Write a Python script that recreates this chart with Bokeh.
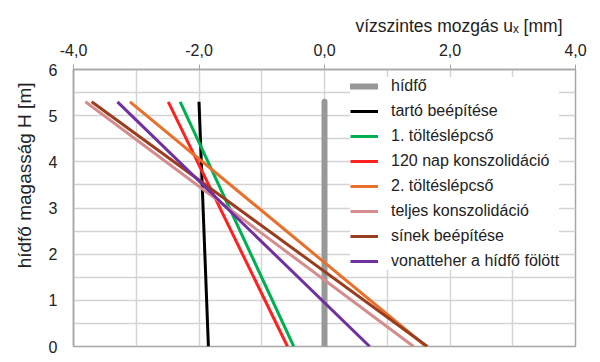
from bokeh.plotting import figure
from bokeh.models import FixedTicker, CustomJSTickFormatter, Legend, LegendItem, Range1d, Title
from bokeh.embed import file_html
from bokeh.resources import INLINE

# data
heights = [0.0, 5.3]
series_names = ["hídfő", "tartó beépítése", "1. töltéslépcső", "120 nap konszolidáció",
                "2. töltéslépcső", "teljes konszolidáció", "sínek beépítése",
                "vonatteher a hídfő fölött"]
hidfo = [0.0, 0.0]
tarto = [-1.85, -2.00]
tolt1 = [-0.49, -2.30]
nap120 = [-0.59, -2.49]
tolt2 = [1.62, -3.10]
teljes = [1.42, -3.81]
sinek = [1.64, -3.71]
vonat = [0.72, -3.30]
x_ticks = [-4, -2, 0, 2, 4]
y_ticks = [0, 1, 2, 3, 4, 5, 6]

series = [hidfo, tarto, tolt1, nap120, tolt2, teljes, sinek, vonat]
colors = ["#989898", "#000000", "#00b050", "#ff2020", "#e8702a", "#d48c8c", "#9a3d1e", "#7030a0"]
widths = [6, 3, 3, 3, 3, 3, 3, 3]

FONT = "Liberation Sans"

p = figure(width=600, height=362, output_backend="svg", toolbar_location=None,
           x_axis_location="above", x_range=Range1d(-4, 4), y_range=Range1d(0, 6),
           min_border_left=73, min_border_right=25, min_border_top=69, min_border_bottom=16)

p.title.text = "vízszintes mozgás uₓ [mm]"
p.title.align = "right"
p.title.offset = 13
p.title.text_font = FONT
p.title.text_font_size = "17.5px"
p.title.text_font_style = "normal"
p.title.text_color = "#222222"

fmt = CustomJSTickFormatter(code="return tick.toFixed(1).replace('.', ',');")
xa = p.xaxis[0]
xa.ticker = FixedTicker(ticks=x_ticks)
xa.formatter = fmt
xa.major_label_text_font = FONT
xa.major_label_text_font_size = "16px"
xa.major_label_text_color = "#222222"
xa.major_tick_in = 0
xa.major_tick_out = 5
xa.minor_tick_line_color = None
xa.major_label_standoff = 9
xa.axis_line_color = "#a6a6a6"
xa.major_tick_line_color = "#a6a6a6"
xa.axis_line_width = 1.5

ya = p.yaxis[0]
ya.ticker = FixedTicker(ticks=y_ticks)
ya.major_label_text_font = FONT
ya.major_label_text_font_size = "16px"
ya.major_label_text_color = "#222222"
ya.major_tick_line_color = None
ya.minor_tick_line_color = None
ya.major_tick_in = 0
ya.major_tick_out = 0
ya.major_label_standoff = 16
ya.axis_line_color = "#a6a6a6"
ya.axis_line_width = 1.5

# y axis title, shifted upward like the original
ytitle = Title(text="hídfő magasság H [m]", align="right", offset=13, standoff=21,
               text_font=FONT, text_font_size="19px", text_font_style="normal",
               text_color="#222222")
p.add_layout(ytitle, "left")

p.xgrid.ticker = FixedTicker(ticks=[-3, -2, -1, 0, 1, 2, 3])
p.ygrid.ticker = FixedTicker(ticks=[0.5, 1, 1.5, 2, 2.5, 3, 3.5, 4, 4.5, 5, 5.5])
for g in (p.xgrid[0], p.ygrid[0]):
    g.grid_line_color = "#d4d4d4"
    g.grid_line_width = 1.5

p.outline_line_color = "#a6a6a6"
p.outline_line_width = 1.5

items = []
for name, xs, c, w in zip(series_names, series, colors, widths):
    r = p.line(xs, heights, line_color=c, line_width=w,
               line_cap="round" if w > 4 else "butt")
    items.append(LegendItem(label=name, renderers=[r]))

legend = Legend(items=items, location=(277, 76))
legend.label_text_font = FONT
legend.label_text_font_size = "16px"
legend.label_text_color = "#222222"
legend.glyph_width = 28
legend.glyph_height = 18
legend.label_height = 18
legend.spacing = 7
legend.label_standoff = 13
legend.padding = 3
legend.margin = 0
legend.border_line_color = None
legend.background_fill_color = "white"
legend.background_fill_alpha = 1.0
p.add_layout(legend, "center")

open("out.html", "w").write(file_html(p, INLINE))
